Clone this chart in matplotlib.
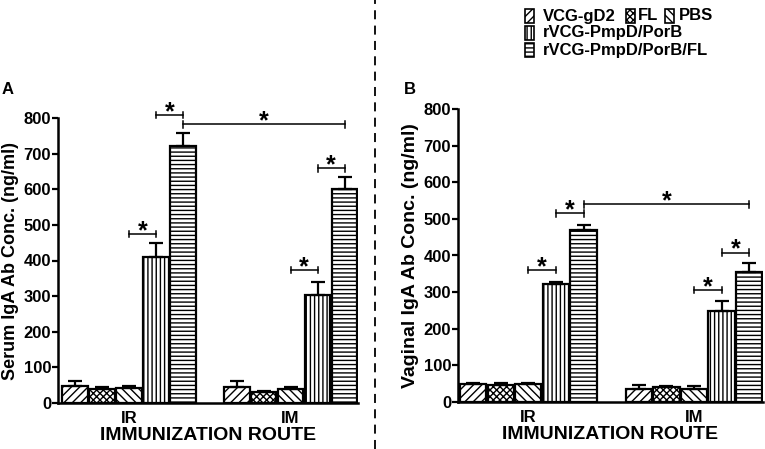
import matplotlib
matplotlib.use("Agg")
import matplotlib.pyplot as plt
from matplotlib.patches import Rectangle
from matplotlib.lines import Line2D

plt.rcParams["font.family"] = ["Liberation Sans", "DejaVu Sans"]
plt.rcParams["font.weight"] = "bold"
plt.rcParams["hatch.linewidth"] = 1.0

# ── Data ────────────────────────────────────────────────────────────────────
groups = ["VCG-gD2", "FL", "PBS", "rVCG-PmpD/PorB", "rVCG-PmpD/PorB/FL"]
hatches = ["////", "xxxxx", "\\\\\\\\", "||||", "----"]
routes = ["IR", "IM"]

serum_ir = [47, 38, 40, 410, 723]
serum_ir_err = [14, 6, 6, 38, 35]
serum_im = [45, 29, 38, 303, 601]
serum_im_err = [17, 4, 6, 36, 33]

vag_ir = [48, 46, 48, 322, 470]
vag_ir_err = [2, 5, 2, 6, 13]
vag_im = [35, 41, 36, 248, 354]
vag_im_err = [11, 3, 8, 28, 26]

# significance brackets: (bar index from, bar index to, y level); IM bars are 5..9
serum_sig = [(2, 3, 474), (3, 4, 809), (4, 9, 783), (7, 8, 373), (8, 9, 659)]
vag_sig = [(2, 3, 360), (3, 4, 515), (4, 9, 540), (7, 8, 306), (8, 9, 408)]

W, H = 765, 449
fig = plt.figure(figsize=(W / 100, H / 100), dpi=100)


def fx(x):
    return x / W


def fy(y):
    return 1 - y / H


pos = [0, 1, 2, 3, 4, 6, 7, 8, 9, 10]


def panel(rect, ir, ir_err, im, im_err, sig, ylabel, ylab_size, xlim):
    ax = fig.add_axes(rect)
    vals = ir + im
    errs = ir_err + im_err
    for i, (p, v) in enumerate(zip(pos, vals)):
        ax.bar(p, v, width=0.95, color="white", edgecolor="black",
               linewidth=1.6, hatch=hatches[i % 5], zorder=2)
    ax.errorbar(pos, vals, yerr=[[0] * len(vals), errs], fmt="none",
                ecolor="black", elinewidth=1.6, capsize=4.7, capthick=1.6, zorder=3)
    tick_h = 9
    for a, b, y in sig:
        x1, x2 = pos[a], pos[b]
        ax.plot([x1, x2], [y, y], color="black", lw=1.1, clip_on=False, zorder=4)
        for xx in (x1, x2):
            ax.plot([xx, xx], [y - tick_h, y + tick_h], color="black", lw=1.1,
                    clip_on=False, zorder=4)
        ax.annotate("*", xy=((x1 + x2) / 2, y), xytext=(0, -3),
                    textcoords="offset points", ha="center", va="baseline",
                    fontsize=18, fontweight="bold", annotation_clip=False)
    ax.set_ylim(0, 800)
    ax.set_xlim(*xlim)
    ax.set_yticks(range(0, 801, 100))
    ax.set_xticks([2, 8])
    ax.set_xticklabels(routes)
    ax.tick_params(axis="x", length=0, labelsize=12, pad=6)
    ax.tick_params(axis="y", direction="out", length=4, width=1.6,
                   labelsize=12, pad=1)
    for t in ax.get_xticklabels() + ax.get_yticklabels():
        t.set_fontweight("bold")
    for s in ("top", "right"):
        ax.spines[s].set_visible(False)
    for s in ("left", "bottom"):
        ax.spines[s].set_linewidth(1.8)
    ax.set_xlabel("IMMUNIZATION ROUTE", fontsize=14, fontweight="bold", labelpad=1)
    ax.set_ylabel(ylabel, fontsize=ylab_size, fontweight="bold", labelpad=3)
    return ax


ax_a = panel([fx(58), fy(402.7), fx(358) - fx(58), fy(118.3) - fy(402.7)],
             serum_ir, serum_ir_err, serum_im, serum_im_err, serum_sig,
             "Serum IgA Ab Conc. (ng/ml)", 13, (-0.63, 10.5))
ax_b = panel([fx(458), fy(401.7), fx(763) - fx(458), fy(109.3) - fy(401.7)],
             vag_ir, vag_ir_err, vag_im, vag_im_err, vag_sig,
             "Vaginal IgA Ab Conc. (ng/ml)", 14, (-0.55, 10.5))

# panel letters
fig.text(fx(8), fy(90), "A", fontsize=12, fontweight="bold", ha="center", va="center")
fig.text(fx(410), fy(90), "B", fontsize=12, fontweight="bold", ha="center", va="center")

# dashed divider
fig.add_artist(Line2D([fx(375), fx(375)], [0, 1], transform=fig.transFigure,
                      color="black", lw=1.3, ls=(0, (5, 3.5))))

# legend (manual layout: three keys on first row, one per row after)
legend_items = [
    (groups[0], 0, 525, 543, 16),
    (groups[1], 1, 626, 638, 16),
    (groups[2], 2, 665, 679, 16),
    (groups[3], 3, 525, 543, 33),
    (groups[4], 4, 525, 543, 50),
]
for label, hi, px, tx, py in legend_items:
    fig.add_artist(Rectangle((fx(px), fy(py + 6.5)), fx(9), 13 / H,
                             transform=fig.transFigure, facecolor="white",
                             edgecolor="black", linewidth=1.2, hatch=hatches[hi]))
    fig.text(fx(tx), fy(py), label, fontsize=12, fontweight="bold",
             ha="left", va="center")

fig.savefig("out.png", dpi=100)
